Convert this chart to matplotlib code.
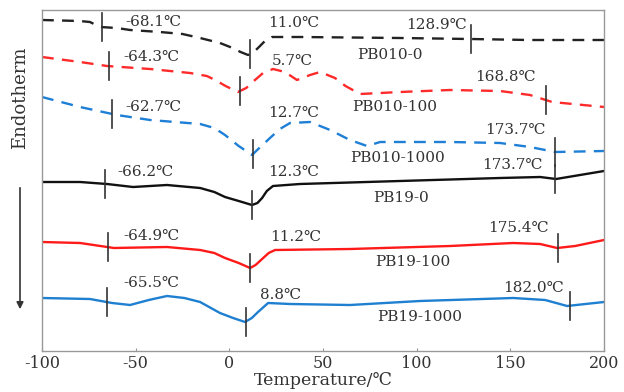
import numpy as np
import matplotlib
matplotlib.use("Agg")
import matplotlib.pyplot as plt

plt.rcParams['font.family'] = ['DejaVu Serif', 'DejaVu Sans']
plt.rcParams['axes.unicode_minus'] = False

# DSC curves, temperature in C, signal in plot units (larger = lower on chart)
t_b010_0 = [-100, -80, -74.4, -69.0, -60, -53.0, -37.0, -25, -15.6, -5, 0.4, 6, 10.0, 13, 15.3, 19, 22.8, 30, 37.7, 91.1, 128.5, 160, 200]
s_b010_0 = [20, 21, 22, 27, 28, 30, 32, 34, 38, 43, 47, 52, 55, 52, 48, 41, 37, 37, 37, 38, 39, 40, 40]

t_b010_100 = [-100, -79.7, -65.3, -42.3, -21.0, -12, -7.6, -2, 4.6, 9, 13.7, 18, 23.3, 29.7, 36.1, 43.1, 48.4, 56.4, 62, 69.8, 91.1, 117.8, 144.5, 160.5, 172.3, 200]
s_b010_100 = [57, 62, 66, 69, 73, 76, 80, 86, 92, 88, 80, 73, 69, 72, 80, 75, 72, 78, 86, 94, 92, 90, 91, 95, 102, 107]

t_b010_1000 = [-100, -79.7, -60.0, -42.3, -15.6, -8, -2.3, 5, 12.1, 16, 21.7, 27, 32.4, 43.1, 53.8, 64.4, 73.5, 80.5, 117.8, 144.5, 160.5, 173.9, 200]
s_b010_1000 = [97, 107, 115, 120, 124, 128, 135, 146, 155, 148, 138, 129, 123, 122, 130, 140, 146, 142, 142, 143, 147, 152, 151]

t_b19_0 = [-100, -79.7, -65.3, -51.4, -33.3, -15.6, -8, -2.3, 5, 12.1, 15, 17.5, 20, 23.3, 37.7, 91.1, 144.5, 165.9, 174.4, 200]
s_b19_0 = [182, 182, 184, 187, 185, 188, 192, 197, 201, 205, 203, 198, 191, 186, 184, 181, 178, 177, 179, 171]

t_b19_100 = [-100, -79.7, -61.6, -33.3, -15.6, -8, -2.3, 5, 11.1, 14, 17.5, 21, 24.4, 64.4, 117.8, 151.5, 165.9, 175.0, 184.6, 200]
s_b19_100 = [242, 243, 248, 247, 250, 253, 258, 263, 268, 265, 259, 253, 250, 249, 246, 243, 244, 248, 246, 240]

t_b19_1000 = [-100, -74.4, -62.6, -53.0, -43, -33.3, -24, -15.6, -5.0, 2, 8.4, 12, 15.3, 20.7, 32.4, 64.4, 101.8, 151.5, 168.6, 180.3, 200]
s_b19_1000 = [298, 299, 303, 305, 300, 296, 298, 302, 313, 318, 322, 318, 312, 303, 304, 305, 301, 298, 300, 306, 302]

names = ['PB010-0', 'PB010-100', 'PB010-1000', 'PB19-0', 'PB19-100', 'PB19-1000']
transitions = [
    [-68.1, 11.0, 128.9],
    [-64.3, 5.7, 168.8],
    [-62.7, 12.7, 173.7],
    [-66.2, 12.3, 173.7],
    [-64.9, 11.2, 175.4],
    [-65.5, 8.8, 182.0],
]

curves = [(t_b010_0, s_b010_0), (t_b010_100, s_b010_100), (t_b010_1000, s_b010_1000),
          (t_b19_0, s_b19_0), (t_b19_100, s_b19_100), (t_b19_1000, s_b19_1000)]
colors = ['#222222', '#ff2a2a', '#1e7fd6', '#111111', '#ff1a1a', '#1f7fd0']
styles = [(0, (5, 3.5)), (0, (5, 3.5)), (0, (5, 3.5)), '-', '-', '-']

# label placement: (x, y, ha) for the three transition labels, then name
label_pos = [
    [(-55.7, 22, 'left'), (20.7, 23, 'left'), (126.9, 25, 'right'), (68.2, 55)],
    [(-56.8, 57, 'left'), (22.8, 61, 'left'), (131.2, 77, 'left'), (65.5, 107)],
    [(-55.7, 107, 'left'), (20.7, 113, 'left'), (136.5, 130, 'left'), (64.4, 158)],
    [(-60.0, 172, 'left'), (20.7, 172, 'left'), (134.9, 165, 'left'), (76.7, 198)],
    [(-56.8, 236, 'left'), (21.7, 237, 'left'), (138.1, 228, 'left'), (77.8, 262)],
    [(-56.8, 283, 'left'), (16.4, 295, 'left'), (146.1, 288, 'left'), (78.9, 317)],
]

fig = plt.figure(figsize=(6.24, 3.92), dpi=100)
ax = fig.add_axes([42/624, 41/392, 562/624, 341/392])

txt = '#333333'
for (t, s), c, ls, name, trans, pos in zip(curves, colors, styles, names, transitions, label_pos):
    ax.plot(t, s, color=c, linestyle=ls, lw=1.7, solid_joinstyle='round')
    for tv, (px, py, ha) in zip(trans, pos[:3]):
        yc = np.interp(tv, t, s)
        ax.plot([tv, tv], [yc - 14, yc + 14], color='#333333', lw=1.2)
        ax.text(px, py, f'{tv:.1f}℃', ha=ha, va='center', fontsize=11, color=txt)
    ax.text(pos[3][0], pos[3][1], name, ha='left', va='center', fontsize=11, color=txt)

ax.set_xlim(-100, 200)
ax.set_ylim(351, 10)
ax.set_xticks([-100, -50, 0, 50, 100, 150, 200])
ax.set_yticks([])
ax.tick_params(axis='x', direction='in', length=2, labelsize=11.5, colors='#999999', labelcolor=txt, pad=3)
for sp in ax.spines.values():
    sp.set_color('#999999')
    sp.set_linewidth(1.0)
ax.set_xlabel('Temperature/℃', fontsize=12.5, color=txt, labelpad=0)

fig.text(20/624, 1 - 98/392, 'Endotherm', rotation=90, ha='center', va='center', fontsize=13, color=txt)
fig.patches.append(matplotlib.patches.FancyArrowPatch((20/624, 1 - 185/392), (20/624, 1 - 312/392),
                   transform=fig.transFigure, arrowstyle='-|>', mutation_scale=10, color='#333333', lw=1.2))

fig.savefig('out.png', dpi=100)
